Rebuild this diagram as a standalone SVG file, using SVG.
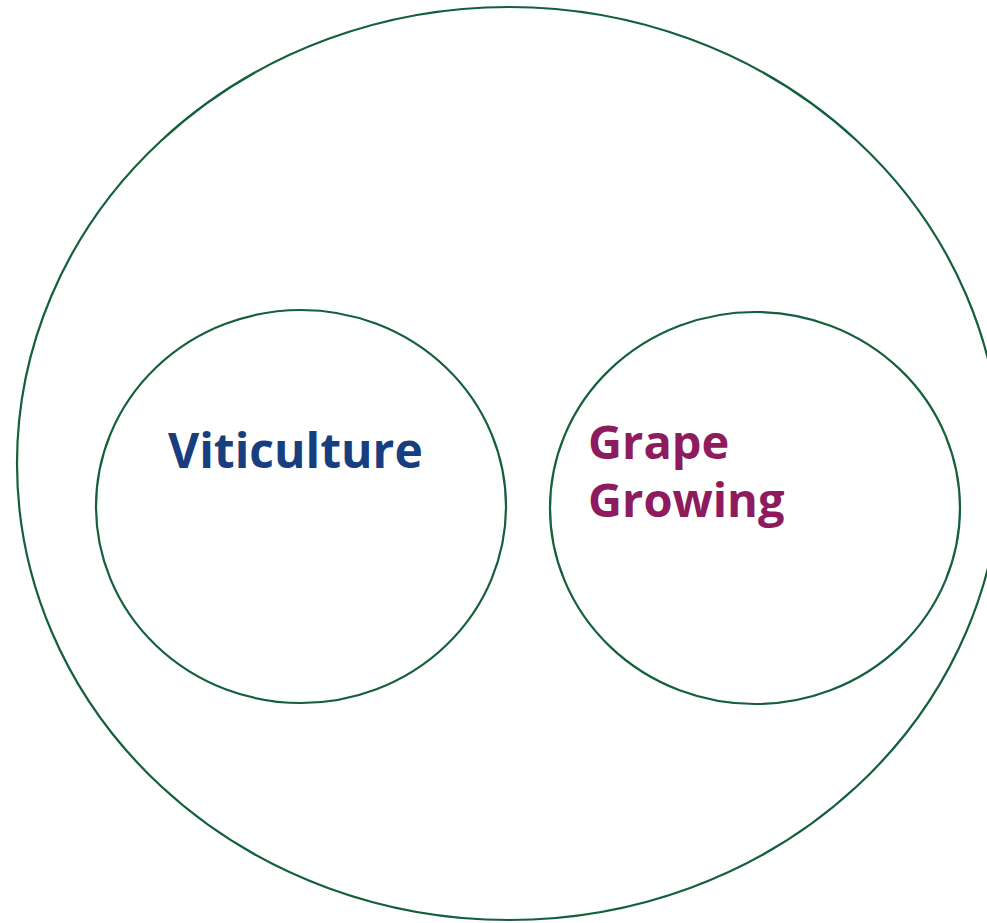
<svg xmlns="http://www.w3.org/2000/svg" width="987" height="923" viewBox="0 0 987 923">
<style>
.c{fill:none;stroke:#14603a;stroke-width:2.2}
.t{font-family:"Open Sans","Noto Sans",sans-serif;font-weight:bold;font-size:48px}
</style>
<rect width="987" height="923" fill="#fff"/>
<g id="outer"><ellipse class="c" cx="509" cy="463.5" rx="492" ry="456.5"/></g>
<g id="viticulture">
<ellipse class="c" cx="301" cy="506.5" rx="205" ry="196.5"/>
<text class="t" x="168" y="468" fill="#173f80">Viticulture</text>
</g>
<g id="grape-growing">
<ellipse class="c" cx="755" cy="508" rx="205" ry="196"/>
<text class="t" fill="#8e1b5e" style="font-size:47px"><tspan x="588" y="459">Grape</tspan><tspan x="588" y="517">Growing</tspan></text>
</g>
<g id="connectors"/>
</svg>
